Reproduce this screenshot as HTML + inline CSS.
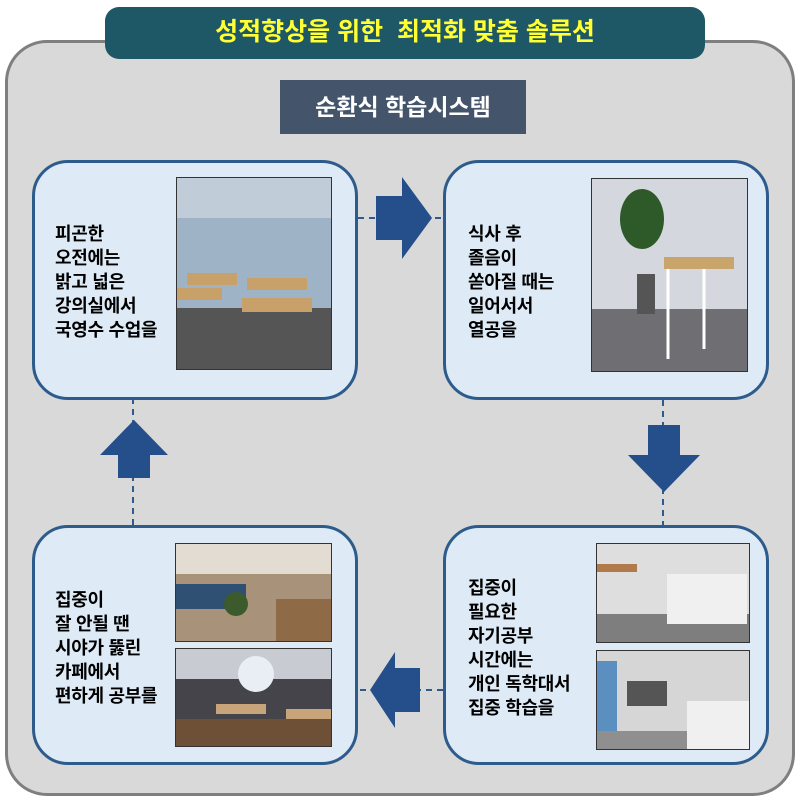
<!DOCTYPE html>
<html><head><meta charset="utf-8"><style>
body{margin:0;width:800px;height:800px;background:#fff;position:relative;overflow:hidden;font-family:"Liberation Sans","Noto Sans CJK KR",sans-serif}
.a{position:absolute}
.outer{left:5px;top:40px;width:784px;height:750px;background:#d9d9d9;border:3px solid #7f7f7f;border-radius:42px}
.title{left:105px;top:7px;width:600px;height:52px;background:#1e5765;border-radius:14px;color:#ffff33;font-weight:bold;font-size:25px;text-align:center;line-height:50px}
.sub{left:280px;top:80px;width:246px;height:54px;background:#44546a;color:#fff;font-weight:bold;font-size:23px;text-align:center;line-height:54px}
.box{width:320px;height:234px;background:#deebf7;border:3px solid #2d5c8c;border-radius:36px;box-sizing:content-box}
.txt{font-weight:bold;font-size:18px;line-height:24px;color:#000;letter-spacing:-0.3px}
.ph{border:1px solid #333}
</style></head><body>
<div class="a outer"></div>
<div class="a title">성적향상을 위한&nbsp; 최적화 맞춤 솔루션</div>
<div class="a sub">순환식 학습시스템</div>

<svg class="a" style="left:0;top:0" width="800" height="800">
<g stroke="#2d5c8c" stroke-width="2" stroke-dasharray="6,5" fill="none">
<line x1="358" y1="218" x2="443" y2="218"/>
<line x1="663" y1="400" x2="663" y2="525"/>
<line x1="443" y1="690" x2="358" y2="690"/>
<line x1="133" y1="525" x2="133" y2="400"/>
</g>
<g fill="#254f8a">
<polygon points="376,196 402,196 402,177 432,218 402,259 402,240 376,240"/>
<polygon points="648,425 680,425 680,455 700,455 664,492 628,455 648,455"/>
<polygon points="420,668 395,668 395,652 370,690 395,728 395,712 420,712"/>
<polygon points="118,478 150,478 150,455 168,455 134,420 100,455 118,455"/>
</g>
</svg>

<div class="a box" style="left:32px;top:160px"></div>
<div class="a box" style="left:443px;top:160px"></div>
<div class="a box" style="left:443px;top:525px"></div>
<div class="a box" style="left:32px;top:525px"></div>

<div class="a txt" style="left:55px;top:222px">피곤한<br>오전에는<br>밝고 넓은<br>강의실에서<br>국영수 수업을</div>
<div class="a txt" style="left:468px;top:222px">식사 후<br>졸음이<br>쏟아질 때는<br>일어서서<br>열공을</div>
<div class="a txt" style="left:468px;top:576px">집중이<br>필요한<br>자기공부<br>시간에는<br>개인 독학대서<br>집중 학습을</div>
<div class="a txt" style="left:55px;top:588px">집중이<br>잘 안될 땐<br>시야가 뚫린<br>카페에서<br>편하게 공부를</div>

<svg class="a ph" style="left:176px;top:177px" width="154" height="191">
<rect width="154" height="191" fill="#9fb3c6"/><rect y="0" width="154" height="40" fill="#c0ccd8"/>
<rect y="130" width="154" height="61" fill="#555"/>
<g fill="#c8a06a"><rect x="10" y="95" width="50" height="12"/><rect x="70" y="100" width="60" height="12"/><rect x="65" y="120" width="70" height="14"/><rect x="0" y="110" width="45" height="12"/></g>
</svg>
<svg class="a ph" style="left:591px;top:178px" width="155" height="192">
<rect width="155" height="192" fill="#d4d8de"/><rect y="130" width="155" height="62" fill="#6f6e72"/>
<ellipse cx="50" cy="40" rx="22" ry="30" fill="#2e5a2a"/><rect x="45" y="95" width="18" height="40" fill="#555"/>
<rect x="72" y="78" width="70" height="12" fill="#c9a46b"/><g stroke="#fff" stroke-width="3"><line x1="76" y1="90" x2="76" y2="180"/><line x1="112" y1="90" x2="112" y2="170"/></g>
</svg>
<svg class="a ph" style="left:596px;top:543px" width="152" height="98">
<rect width="152" height="98" fill="#dedede"/><rect y="70" width="152" height="28" fill="#7e7e7e"/>
<rect x="70" y="30" width="80" height="50" fill="#f0f0f0"/><rect x="0" y="20" width="40" height="8" fill="#b07a4a"/>
</svg>
<svg class="a ph" style="left:596px;top:650px" width="152" height="98">
<rect width="152" height="98" fill="#d6d6d6"/><rect x="0" y="10" width="20" height="88" fill="#5a8fc0"/>
<rect x="30" y="30" width="40" height="25" fill="#555"/><rect x="90" y="50" width="62" height="48" fill="#f0f0f0"/><rect y="80" width="90" height="18" fill="#8f8f8f"/>
</svg>
<svg class="a ph" style="left:175px;top:543px" width="155" height="97">
<rect width="155" height="97" fill="#a8937a"/><rect y="0" width="155" height="30" fill="#e2dcd2"/>
<rect x="0" y="40" width="70" height="25" fill="#2f4f73"/><rect x="100" y="55" width="55" height="42" fill="#8f6a46"/><circle cx="60" cy="60" r="12" fill="#3c5a2c"/>
</svg>
<svg class="a ph" style="left:175px;top:648px" width="155" height="97">
<rect width="155" height="97" fill="#44444a"/><rect y="0" width="155" height="30" fill="#c8ccd2"/>
<circle cx="80" cy="25" r="18" fill="#e8eef4"/><rect x="40" y="55" width="50" height="10" fill="#c7a47a"/><rect x="110" y="60" width="45" height="10" fill="#c7a47a"/><rect y="70" width="155" height="27" fill="#6e5036"/>
</svg>
</body></html>
